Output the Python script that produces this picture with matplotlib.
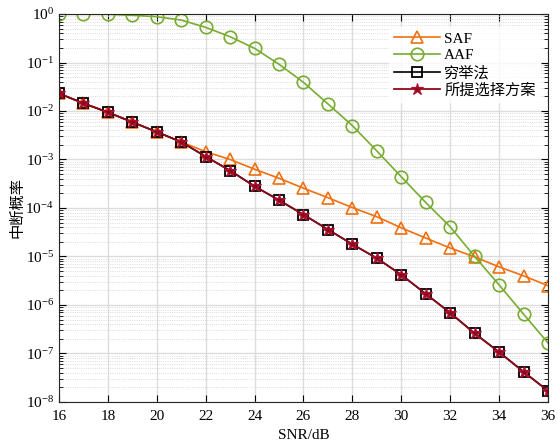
import numpy as np
import matplotlib
matplotlib.use('Agg')
import matplotlib.pyplot as plt
from matplotlib.ticker import LogLocator, FixedLocator, NullFormatter

plt.rcParams['font.family'] = ['Liberation Serif', 'Noto Sans CJK SC']
plt.rcParams['mathtext.fontset'] = 'stix'

snr = np.arange(16, 37)

p_saf = np.array([2.3e-2, 1.44e-2, 9.4e-3, 5.9e-3, 3.7e-3, 2.3e-3, 1.45e-3,
                  1.0e-3, 6.3e-4, 4.1e-4, 2.56e-4, 1.63e-4, 1.02e-4, 6.6e-5,
                  3.9e-5, 2.4e-5, 1.5e-5, 9.8e-6, 6.1e-6, 4.0e-6, 2.5e-6])
p_aaf = np.array([0.99, 0.99, 0.985, 0.94, 0.88, 0.75, 0.53, 0.34, 0.196,
                  0.092, 0.039, 0.014, 5.0e-3, 1.5e-3, 4.4e-4, 1.3e-4,
                  4.1e-5, 1.0e-5, 2.6e-6, 6.5e-7, 1.65e-7])
p_exh = np.array([2.3e-2, 1.44e-2, 9.4e-3, 5.9e-3, 3.7e-3, 2.3e-3, 1.15e-3,
                  5.9e-4, 2.8e-4, 1.45e-4, 7.3e-5, 3.6e-5, 1.79e-5, 9.2e-6,
                  4.2e-6, 1.7e-6, 6.9e-7, 2.6e-7, 1.07e-7, 4.2e-8, 1.7e-8])
p_prop = p_exh.copy()

fig = plt.figure(figsize=(5.58, 4.46), dpi=100)
ax = fig.add_axes([0.1057, 0.0987, 0.8763, 0.8699])

ax.semilogy(snr, p_saf, color='#F07010', lw=1.2, marker='^', ms=8.5,
            mfc='none', mew=1.2, label='SAF')
ax.semilogy(snr, p_aaf, color='#77AC30', lw=1.2, marker='o', ms=9,
            mfc='none', mew=1.2, label='AAF')
ax.semilogy(snr, p_exh, color='black', lw=1.2, marker='s', ms=6.5,
            mfc='none', mew=1.3, label='穷举法')
ax.semilogy(snr, p_prop, color='#8B0A1A', lw=1.3, marker='*', ms=9,
            mfc='#8B0A1A', mec='#B01030', mew=0.9, label='所提选择方案')

ax.set_xlim(16, 36)
ax.set_ylim(1e-8, 1)
ax.xaxis.set_major_locator(FixedLocator(np.arange(16, 37, 2)))
ax.yaxis.set_major_locator(LogLocator(base=10, numticks=20))
ax.yaxis.set_minor_locator(LogLocator(base=10, subs=np.arange(2, 10), numticks=20))
ax.yaxis.set_minor_formatter(NullFormatter())

ax.grid(True, which='major', color='#dcdcdc', lw=1.0, ls='-')
ax.grid(True, which='minor', axis='y', color='#cfcfcf', lw=0.6, ls=':')
ax.set_axisbelow(True)
ax.tick_params(which='both', direction='in', top=True, right=True, labelsize=11)
ax.tick_params(which='major', length=5)
ax.tick_params(which='minor', length=3)
ax.tick_params(axis='x', pad=6)
for s in ax.spines.values():
    s.set_color('#262626')

ax.set_xlabel('SNR/dB', fontsize=11, labelpad=4)
ax.set_ylabel('中断概率', fontsize=11, labelpad=1)

leg = ax.legend(loc='upper right', bbox_to_anchor=(1.0, 0.985), fontsize=11,
                frameon=True, fancybox=False, edgecolor='white',
                handlelength=3.0, borderpad=0.3, labelspacing=0.2,
                handletextpad=0.3)

fig.savefig('out.png', dpi=100)
